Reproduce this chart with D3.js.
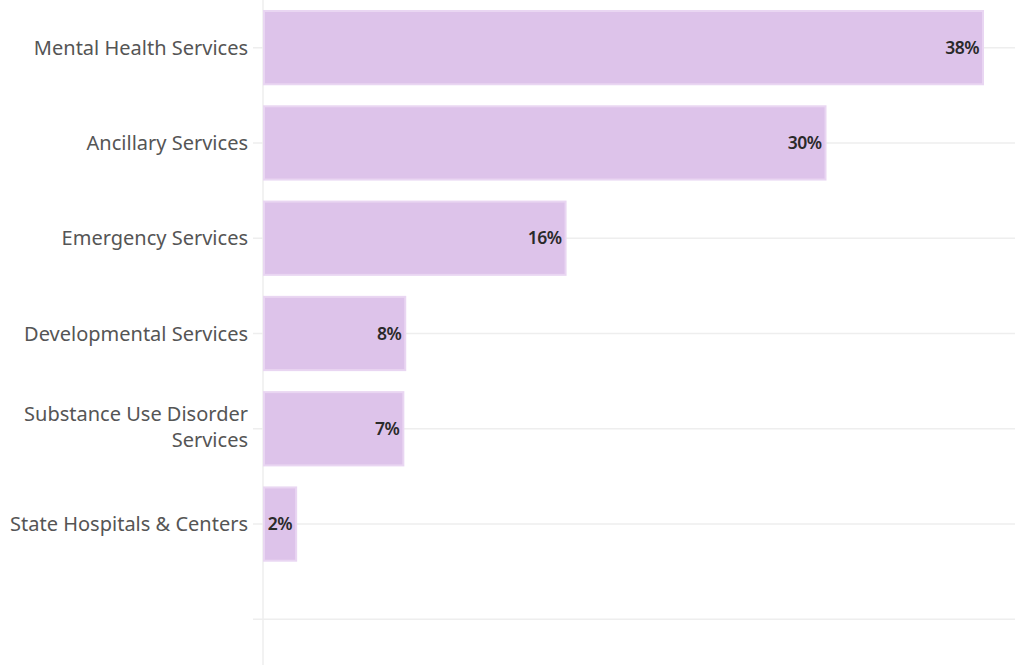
<!DOCTYPE html>
<html>
<head>
<meta charset="utf-8">
<script src="https://cdn.jsdelivr.net/npm/d3@7"></script>
<style>
  body { margin: 0; background: #fff; }
  svg { display: block; }
</style>
</head>
<body>
<svg id="chart"></svg>
<script>
var categories = [
  "Mental Health Services",
  "Ancillary Services",
  "Emergency Services",
  "Developmental Services",
  "Substance Use Disorder|Services",
  "State Hospitals & Centers",
  " "
];
var shares = [38, 29.7, 16, 7.55, 7.45, 1.8];

var width = 1015, height = 665;
var left = 263, right = 984;

var svg = d3.select("#chart")
            .attr("width", width)
            .attr("height", height);

var x = d3.scaleLinear()
          .domain([0, 38])
          .range([left, right]);

var y = d3.scaleBand()
          .domain(categories)
          .range([0, 667])
          .paddingInner(0.21)
          .paddingOuter(0.105);

// gridlines + ticks at band centres
svg.append("g")
   .selectAll("line")
   .data(categories)
   .enter()
   .append("line")
   .attr("x1", left - 10)
   .attr("x2", width)
   .attr("y1", d => y(d) + y.bandwidth() / 2)
   .attr("y2", d => y(d) + y.bandwidth() / 2)
   .attr("stroke", "#eeeeee")
   .attr("stroke-width", 1.5);

svg.append("line")
   .attr("x1", left).attr("x2", left)
   .attr("y1", 0).attr("y2", height)
   .attr("stroke", "#eeeeee")
   .attr("stroke-width", 1.5);

var data = shares.map((v, i) => ({cat: categories[i], value: v}));

svg.append("g")
   .selectAll("rect")
   .data(data)
   .enter()
   .append("rect")
   .attr("x", x(0) + 1)
   .attr("y", d => y(d.cat) + 1)
   .attr("width", d => x(d.value) - x(0) - 2)
   .attr("height", y.bandwidth() - 2)
   .attr("fill", "#ddc3ea")
   .attr("stroke", "#e9d6f2")
   .attr("stroke-width", 2);

var fmt = d3.format(".0f");

svg.append("g")
   .selectAll("text")
   .data(data)
   .enter()
   .append("text")
   .attr("x", d => x(d.value) - 5)
   .attr("y", d => y(d.cat) + y.bandwidth() / 2)
   .attr("dy", "0.35em")
   .attr("text-anchor", "end")
   .attr("font-family", "'Noto Sans', sans-serif")
   .attr("font-size", 17.5)
   .attr("font-weight", 600)
   .attr("letter-spacing", "-0.5px")
   .attr("fill", "#2a2a2a")
   .text(d => fmt(d.value) + "%");

// category labels (| marks a line break)
var labels = svg.append("g")
   .selectAll("text")
   .data(categories.slice(0, shares.length))
   .enter()
   .append("text")
   .attr("x", left - 15)
   .attr("y", d => y(d) + y.bandwidth() / 2)
   .attr("text-anchor", "end")
   .attr("font-family", "'Noto Sans', sans-serif")
   .attr("font-size", 20)
   .attr("fill", "#555555");

labels.each(function(d){
  var lines = d.split("|");
  var t = d3.select(this);
  lines.forEach((line, i) => {
    t.append("tspan")
     .attr("x", left - 15)
     .attr("dy", i === 0 ? (0.35 - (lines.length - 1) * 0.75) + "em" : "1.3em")
     .text(line);
  });
});
</script>
</body>
</html>
